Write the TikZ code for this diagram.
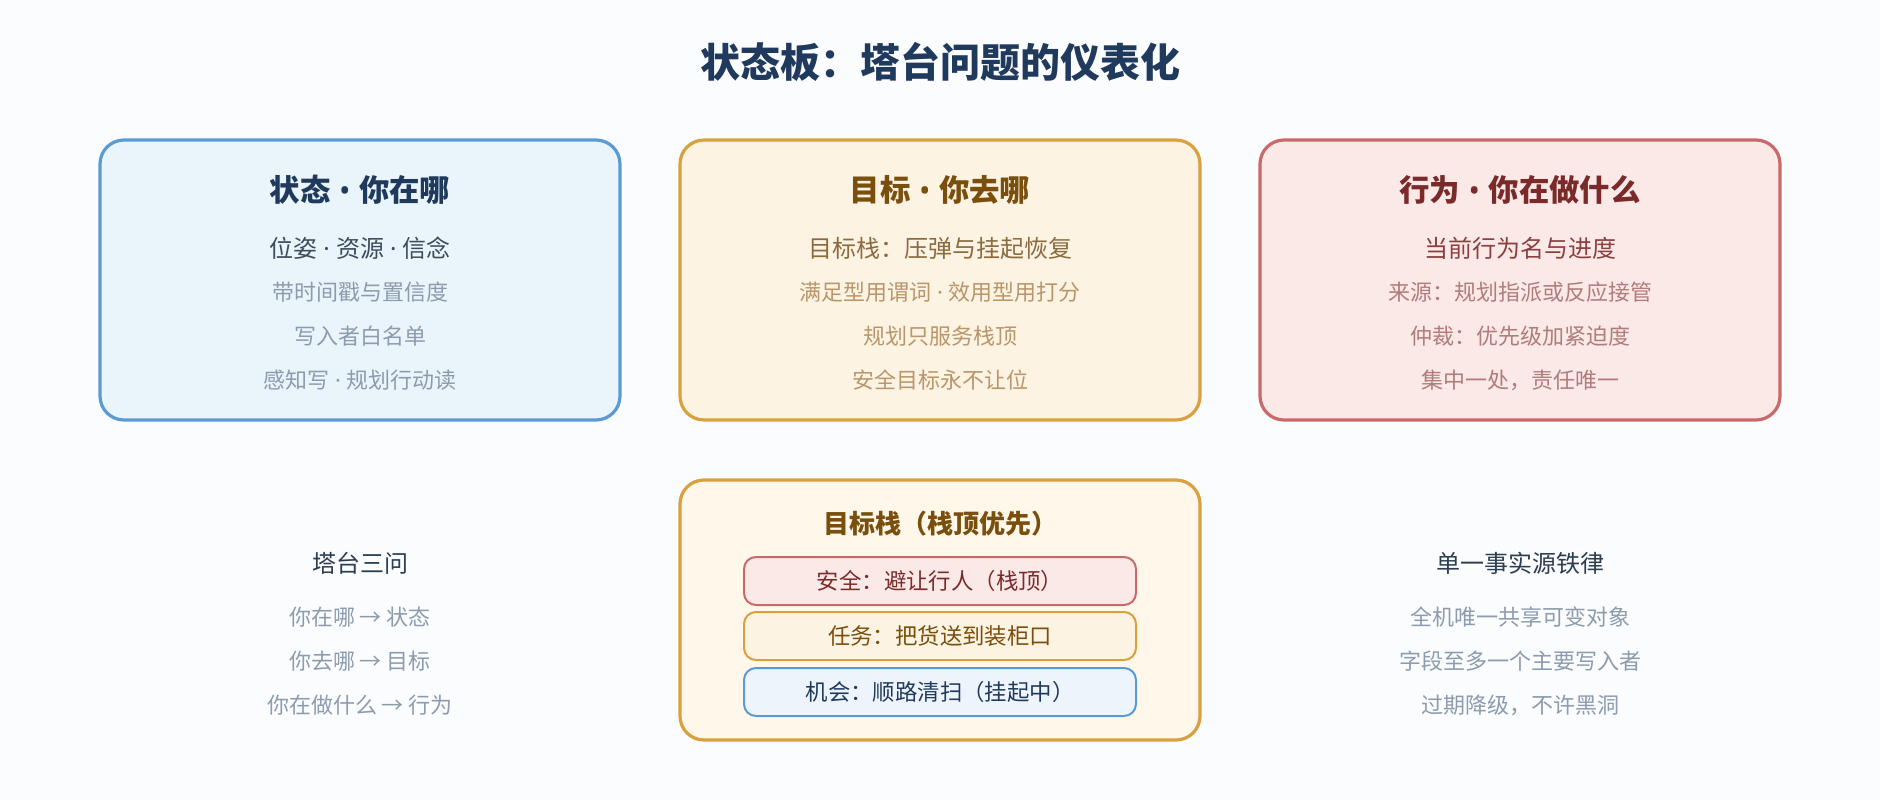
\documentclass[tikz,border=0pt]{standalone}
\usepackage{fontspec}
\setmainfont{Noto Sans CJK SC}
\newfontfamily\latinfont{Noto Sans}
\newcommand{\sepdot}{{\latinfont\ ·\ }}
\newcommand{\titledot}{{\latinfont\bfseries\hspace{0.28em}•\hspace{0.28em}}}
\definecolor{bgc}{HTML}{FBFCFD}
\definecolor{navy}{HTML}{1F3A5C}
\definecolor{bBorder}{HTML}{5B9BD5}
\definecolor{bFill}{HTML}{EAF4FB}
\definecolor{bFillIn}{HTML}{EEF4FB}
\definecolor{bMain}{HTML}{3D4B5C}
\definecolor{bSub}{HTML}{8C9CAE}
\definecolor{oBorder}{HTML}{D9A03F}
\definecolor{oFill}{HTML}{FDF3E2}
\definecolor{oFill2}{HTML}{FFF8EA}
\definecolor{oTitle}{HTML}{7A4E0C}
\definecolor{oMain}{HTML}{8B6B40}
\definecolor{oSub}{HTML}{B8966A}
\definecolor{rBorder}{HTML}{C96A6A}
\definecolor{rFill}{HTML}{FBE9E8}
\definecolor{rTitle}{HTML}{7B2A2A}
\definecolor{rMain}{HTML}{8B4040}
\definecolor{rSub}{HTML}{B07C7C}
\definecolor{sideTitle}{HTML}{2C3E50}
\begin{document}
\begin{tikzpicture}[x=0.75pt,y=-0.75pt,
  card/.style={draw, rounded corners=18pt, line width=2.4pt, minimum width=390pt, minimum height=210pt, inner sep=0pt},
  stackcard/.style={card, minimum height=195pt},
  slot/.style={draw, rounded corners=9pt, line width=1.5pt, minimum width=294pt, minimum height=36pt, inner sep=0pt, font=\fontsize{16.8pt}{20pt}\selectfont},
  maintitle/.style={font=\fontsize{30pt}{36pt}\selectfont\bfseries, text=navy, inner sep=0pt},
  cardtitle/.style={font=\fontsize{22.8pt}{27pt}\selectfont\bfseries, inner sep=0pt},
  mainline/.style={font=\fontsize{18pt}{22pt}\selectfont, inner sep=0pt},
  subline/.style={font=\fontsize{16.5pt}{20pt}\selectfont, inner sep=0pt},
  sidetitle/.style={font=\fontsize{18pt}{22pt}\selectfont, text=sideTitle, inner sep=0pt}
]
\fill[bgc] (0,0) rectangle (1880,800);
\useasboundingbox (0,0) rectangle (1880,800);

\node[maintitle] (title) at (940,62) {状态板：塔台问题的仪表化};

% Card 1
\node[card, draw=bBorder, fill=bFill] (c1) at (360,280) {};
\node[cardtitle, text=navy] (c1t) at (360,190) {状态\titledot 你在哪};
\node[mainline, text=bMain] (c1m) at (360,248) {位姿\sepdot 资源\sepdot 信念};
\node[subline, text=bSub] (c1a) at (360,292) {带时间戳与置信度};
\node[subline, text=bSub] (c1b) at (360,336) {写入者白名单};
\node[subline, text=bSub] (c1c) at (360,380) {感知写\sepdot 规划行动读};

% Card 2
\node[card, draw=oBorder, fill=oFill] (c2) at (940,280) {};
\node[cardtitle, text=oTitle] (c2t) at (940,190) {目标\titledot 你去哪};
\node[mainline, text=oMain] (c2m) at (940,248) {目标栈：压弹与挂起恢复};
\node[subline, text=oSub] (c2a) at (940,292) {满足型用谓词\sepdot 效用型用打分};
\node[subline, text=oSub] (c2b) at (940,336) {规划只服务栈顶};
\node[subline, text=oSub] (c2c) at (940,380) {安全目标永不让位};

% Card 3
\node[card, draw=rBorder, fill=rFill] (c3) at (1520,280) {};
\node[cardtitle, text=rTitle] (c3t) at (1520,190) {行为\titledot 你在做什么};
\node[mainline, text=rMain] (c3m) at (1520,248) {当前行为名与进度};
\node[subline, text=rSub] (c3a) at (1520,292) {来源：规划指派或反应接管};
\node[subline, text=rSub] (c3b) at (1520,336) {仲裁：优先级加紧迫度};
\node[subline, text=rSub] (c3c) at (1520,380) {集中一处，责任唯一};

% Stack card
\node[stackcard, draw=oBorder, fill=oFill2] (c4) at (940,610) {};
\node[font=\fontsize{19.5pt}{23pt}\selectfont\bfseries, text=oTitle, inner sep=0pt] (c4t) at (940,524) {目标栈（栈顶优先）};
\node[slot, draw=rBorder, fill=rFill, text=rTitle] (s1) at (940,581) {安全：避让行人（栈顶）};
\node[slot, draw=oBorder, fill=oFill, text=oTitle] (s2) at (940,636) {任务：把货送到装柜口};
\node[slot, draw=bBorder, fill=bFillIn, text=navy] (s3) at (940,692) {机会：顺路清扫（挂起中）};

% Left side
\node[sidetitle] (lt) at (360,563) {塔台三问};
\node[subline, text=bSub] (l1) at (360,617) {你在哪 → 状态};
\node[subline, text=bSub] (l2) at (360,661) {你去哪 → 目标};
\node[subline, text=bSub] (l3) at (360,705) {你在做什么 → 行为};

% Right side
\node[sidetitle] (rt) at (1520,563) {单一事实源铁律};
\node[subline, text=bSub] (r1) at (1520,617) {全机唯一共享可变对象};
\node[subline, text=bSub] (r2) at (1520,661) {字段至多一个主要写入者};
\node[subline, text=bSub] (r3) at (1520,705) {过期降级，不许黑洞};
\end{tikzpicture}
\end{document}
